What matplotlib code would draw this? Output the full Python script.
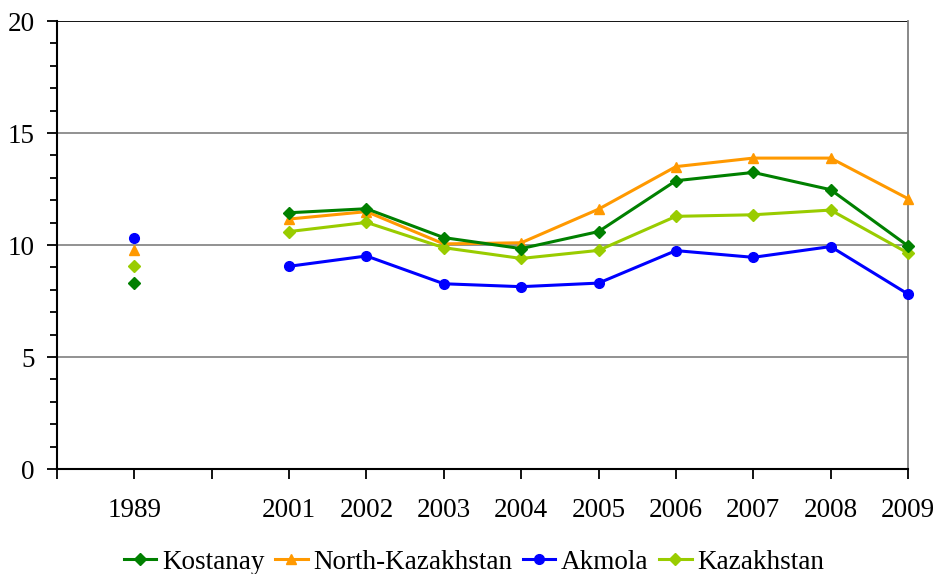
import numpy as np
import matplotlib.pyplot as plt
from matplotlib.ticker import MultipleLocator

plt.rcParams['font.family'] = ['Liberation Serif', 'DejaVu Serif']

# categories (empty slot between 1989 and 2001)
years = ['1989', '', '2001', '2002', '2003', '2004', '2005', '2006', '2007', '2008', '2009']

kostanay = [8.3, np.nan, 11.44, 11.62, 10.33, 9.84, 10.6, 12.87, 13.24, 12.47, 9.96]
north_kaz = [9.78, np.nan, 11.16, 11.49, 10.05, 10.1, 11.6, 13.5, 13.88, 13.88, 12.07]
akmola = [10.31, np.nan, 9.05, 9.51, 8.27, 8.14, 8.3, 9.75, 9.45, 9.93, 7.81]
kazakhstan = [9.06, np.nan, 10.6, 11.01, 9.88, 9.4, 9.76, 11.28, 11.35, 11.56, 9.64]

fig = plt.figure(figsize=(9.38, 5.74), dpi=100)
ax = fig.add_axes([0.0608, 0.1829, 0.9072, 0.7805])

x = np.arange(len(years))
style = dict(lw=2.2, clip_on=False)
ax.plot(x, kostanay, color='#008000', marker='D', markersize=6, label='Kostanay', zorder=4, **style)
ax.plot(x, north_kaz, color='#FF9900', marker='^', markersize=7.5, label='North-Kazakhstan', zorder=3, **style)
ax.plot(x, akmola, color='#0000FF', marker='o', markersize=7, label='Akmola', zorder=3, **style)
ax.plot(x, kazakhstan, color='#99CC00', marker='D', markersize=6, label='Kazakhstan', zorder=3, **style)

ax.set_xlim(-1, 10)
ax.set_ylim(0, 20)
ax.set_xticks(np.arange(-1, 11))
ax.set_xticklabels([''] + years, fontsize=19.5)
ax.yaxis.set_major_locator(MultipleLocator(5))
ax.yaxis.set_minor_locator(MultipleLocator(1))
ax.tick_params(axis='y', which='major', length=7, width=1.3, pad=9, labelsize=19.5)
ax.tick_params(axis='y', which='minor', length=5, width=1.3)
ax.tick_params(axis='x', length=7, width=1.3, pad=14)

# horizontal grid lines
for yv in [5, 10, 15]:
    ax.axhline(yv, color='#7f7f7f', lw=1.2, zorder=1)
ax.axhline(20, color='black', lw=1.3, zorder=1)

ax.spines['top'].set_visible(False)
ax.spines['right'].set_color('#7f7f7f')
ax.spines['right'].set_linewidth(1.3)
ax.spines['left'].set_linewidth(1.5)
ax.spines['bottom'].set_linewidth(1.5)

ax.legend(loc='upper center', bbox_to_anchor=(0.49, -0.18), ncol=4, frameon=False,
          fontsize=19.5, handlelength=1.2, handletextpad=0.2, columnspacing=0.4,
          borderaxespad=0, borderpad=0)

fig.savefig('out.png', dpi=100)
